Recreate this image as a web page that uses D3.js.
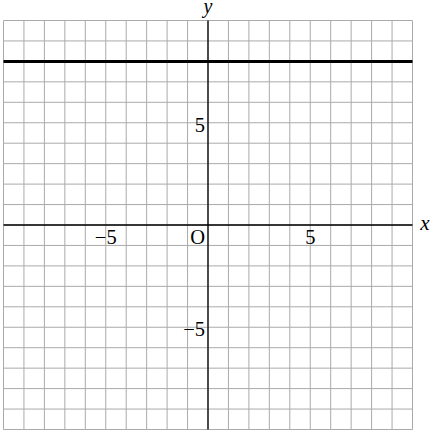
<!DOCTYPE html>
<html><head><meta charset="utf-8">
<script src="https://cdn.jsdelivr.net/npm/d3@7"></script>
<style>body{margin:0;background:#fff}svg{display:block}</style>
</head><body>
<svg id="c" width="434" height="430"></svg>
<script>
const xDomain = [-10, 10];
const yDomain = [-10, 10];
const gridStep = 1;
const xTickValues = [-5, 5];
const yTickValues = [5, -5];
const lineY = [8]; // horizontal line y = 8

const svg = d3.select("#c");
const x = d3.scaleLinear().domain(xDomain).range([3.5, 412.5]);
const y = d3.scaleLinear().domain(yDomain).range([429.5, 20.5]);
const font = "'Liberation Serif', 'DejaVu Serif', serif";
const fs = 20.5;

const gx = d3.range(xDomain[0], xDomain[1] + gridStep / 2, gridStep);
const gy = d3.range(yDomain[0], yDomain[1] + gridStep / 2, gridStep);

svg.append("g").selectAll("line").data(gx).join("line")
  .attr("x1", d => x(d)).attr("x2", d => x(d))
  .attr("y1", y(yDomain[1])).attr("y2", y(yDomain[0]))
  .attr("stroke", "#aaaaaa").attr("stroke-width", 1);
svg.append("g").selectAll("line").data(gy).join("line")
  .attr("y1", d => y(d)).attr("y2", d => y(d))
  .attr("x1", x(xDomain[0])).attr("x2", x(xDomain[1]))
  .attr("stroke", "#aaaaaa").attr("stroke-width", 1);

// axes
svg.append("line").attr("x1", x(xDomain[0])).attr("x2", x(xDomain[1]))
  .attr("y1", y(0)).attr("y2", y(0)).attr("stroke", "#000").attr("stroke-width", 1.3);
svg.append("line").attr("x1", x(0)).attr("x2", x(0))
  .attr("y1", y(yDomain[1])).attr("y2", y(yDomain[0])).attr("stroke", "#000").attr("stroke-width", 1.3);

// line y = 8
svg.append("g").selectAll("line").data(lineY).join("line")
  .attr("x1", x(xDomain[0])).attr("x2", x(xDomain[1]))
  .attr("y1", d => y(d)).attr("y2", d => y(d))
  .attr("stroke", "#000").attr("stroke-width", 3);

const fmt = d => (d < 0 ? "\u2212" : "") + Math.abs(d);

svg.append("g").selectAll("text").data(xTickValues).join("text")
  .attr("x", d => x(d)).attr("y", y(0) + 18.5)
  .attr("text-anchor", "middle").attr("font-family", font).attr("font-size", fs)
  .text(fmt);
svg.append("g").selectAll("text").data(yTickValues).join("text")
  .attr("x", x(0) - 3).attr("y", d => y(d) + 9)
  .attr("text-anchor", "end").attr("font-family", font).attr("font-size", fs)
  .text(fmt);
svg.append("text").attr("x", x(0) - 3).attr("y", y(0) + 18.5)
  .attr("text-anchor", "end").attr("font-family", font).attr("font-size", fs).text("O");

svg.append("text").attr("x", 425).attr("y", y(0) + 5)
  .attr("text-anchor", "middle").attr("font-family", font).attr("font-style", "italic")
  .attr("font-size", 21).text("x");
svg.append("text").attr("x", x(0)).attr("y", 13)
  .attr("text-anchor", "middle").attr("font-family", font).attr("font-style", "italic")
  .attr("font-size", 20).text("y");
</script>
</body></html>
